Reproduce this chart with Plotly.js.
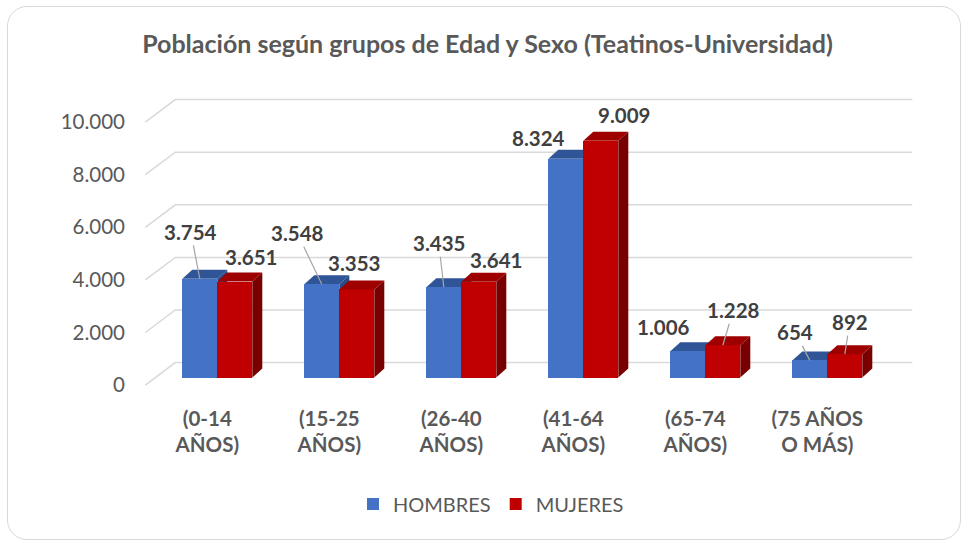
<!DOCTYPE html>
<html>
<head>
<meta charset="utf-8">
<script src="https://cdn.plot.ly/plotly-3.0.1.min.js"></script>
<style>
  html, body { margin: 0; padding: 0; background: #ffffff; }
  #wrap { position: relative; width: 968px; height: 543px; }
  #chart { width: 968px; height: 543px; }
  #frame { position: absolute; left: 7px; top: 6px; width: 954px; height: 534px;
           border: 1.5px solid #d9d9d9; border-radius: 20px; pointer-events: none; box-sizing: border-box; }
</style>
</head>
<body>
<div id="wrap"><div id="chart"></div><div id="frame"></div></div>
<script>
// ---- data ----
const categories = ['(0-14<br>AÑOS)', '(15-25<br>AÑOS)', '(26-40<br>AÑOS)', '(41-64<br>AÑOS)', '(65-74<br>AÑOS)', '(75 AÑOS<br>O MÁS)'];
const hombres = [3754, 3548, 3435, 8324, 1006, 654];
const mujeres = [3651, 3353, 3641, 9009, 1228, 892];
const yTicks = [0, 2000, 4000, 6000, 8000, 10000];
const seriesNames = ['HOMBRES', 'MUJERES'];
const titleText = 'Población según grupos de Edad y Sexo (Teatinos-Universidad)';

// ---- label placement (style) ----
// [showArrow, dx, dy] in pixels
const hLabelPos = [[true, -9, -47], [true, -24.5, -51], [true, -5, -44], [false, -27.5, 21], [false, -24, 24], [true, -14.5, -28]];
const mLabelPos = [[false, 16, 24.6], [false, -3, 26], [false, 17, 22], [false, 23.5, 25.7], [true, 10.5, -35], [true, 5, -32]];

// ---- layout geometry ----
const W = 968, H = 543, ML = 138, MR = 43, MT = 80, MB = 147;
const plotW = W - ML - MR, plotH = H - MT - MB;
const GROUP_PX = 122;
const XR = [-0.65, -0.65 + plotW / GROUP_PX];
const YR = [-700, 11315];
const PXX = plotW / (XR[1] - XR[0]);
const PXY = plotH / (YR[1] - YR[0]);
const BAR_W = 35 / PXX;
const DX = 10 / PXX, DY = 9 / PXY;
const LABEL_DROP = 7.5 / PXY;   // tick labels sit on the front plane, a little lower
const YR2 = [YR[0] + LABEL_DROP, YR[1] + LABEL_DROP];

const blue = '#4472C4', blueTop = '#2F5597', blueSide = '#284B8A';
const red = '#C00000', redTop = '#9E0000', redSide = '#780000';
const textGray = '#595959', labelGray = '#404040', gridCol = '#D9D9D9';
const FONT = 'Lato, sans-serif';

const idx = categories.map((_, i) => i);

const traces = [
  { type: 'bar', name: seriesNames[0], x: idx, y: hombres, offset: -BAR_W, width: BAR_W,
    marker: { color: blue, line: { width: 0 } }, hoverinfo: 'skip' },
  { type: 'bar', name: seriesNames[1], x: idx, y: mujeres, offset: 0, width: BAR_W,
    marker: { color: red, line: { width: 0 } }, hoverinfo: 'skip' },
  { type: 'scatter', x: [], y: [], yaxis: 'y2', showlegend: false, hoverinfo: 'skip' }
];

const shapes = [];
// back-wall gridlines with floor diagonal
const xDiag0 = (145 - 217) / PXX, xBack0 = (175 - 217) / PXX, xBack1 = (912 - 217) / PXX;
yTicks.forEach(t => {
  const yf = t - 7.5 / PXY, yb = t + 15 / PXY;
  shapes.push({ type: 'path', xref: 'x', yref: 'y', layer: 'below',
    path: `M ${xDiag0},${yf} L ${xBack0},${yb} L ${xBack1},${yb}`,
    line: { color: gridCol, width: 1.5 } });
});
function face(pts, color, layer) {
  const p = 'M ' + pts.map(q => q[0] + ',' + q[1]).join(' L ') + ' Z';
  return { type: 'path', xref: 'x', yref: 'y', layer: layer, path: p,
           fillcolor: color, line: { width: 0 } };
}
hombres.forEach((v, i) => {
  const xl = i - BAR_W, xr = i;
  shapes.push(face([[xr, 0], [xr, v], [xr + DX, v + DY], [xr + DX, DY]], blueSide, 'below'));
  shapes.push(face([[xl, v], [xr, v], [xr + DX, v + DY], [xl + DX, v + DY]], blueTop, 'below'));
});
mujeres.forEach((v, i) => {
  const xl = i, xr = i + BAR_W;
  shapes.push(face([[xr, 0], [xr, v], [xr + DX, v + DY], [xr + DX, DY]], redSide, 'above'));
  shapes.push(face([[xl, v], [xr, v], [xr + DX, v + DY], [xl + DX, v + DY]], redTop, 'above'));
});

const fmt = v => v.toLocaleString('de-DE');
const annotations = [];
function addLabel(xc, v, pos) {
  const base = { x: xc, y: v, xref: 'x', yref: 'y', text: fmt(v),
    font: { family: FONT, size: 20.5, color: labelGray, weight: 'bold' } };
  if (pos[0]) {
    annotations.push(Object.assign(base, { showarrow: true, ax: pos[1], ay: pos[2], arrowhead: 0,
      arrowwidth: 1.2, arrowcolor: '#A6A6A6', standoff: 0, startstandoff: 0 }));
  } else {
    annotations.push(Object.assign(base, { showarrow: false, xshift: pos[1], yshift: pos[2] }));
  }
}
hombres.forEach((v, i) => addLabel(i - BAR_W / 2, v, hLabelPos[i]));
mujeres.forEach((v, i) => addLabel(i + BAR_W / 2, v, mLabelPos[i]));

const tickFont = { family: FONT, size: 20.5, color: textGray };
const layout = {
  width: W, height: H,
  margin: { l: ML, r: MR, t: MT, b: MB, pad: 0 },
  paper_bgcolor: '#ffffff', plot_bgcolor: 'rgba(0,0,0,0)',
  separators: ',.',
  font: { family: FONT, color: textGray },
  title: { text: '<b>' + titleText + '</b>', x: 487.5 / W, xanchor: 'center', xref: 'container',
           y: 1 - 44 / H, yanchor: 'middle', yref: 'container',
           font: { family: FONT, size: 25, color: textGray } },
  xaxis: { range: XR, tickvals: idx, ticktext: categories.map(c => '<b>' + c + '</b>'),
           showgrid: false, zeroline: false, showline: false, ticks: '', fixedrange: true,
           ticklabelshift: -10, ticklabelstandoff: 8, tickfont: tickFont },
  yaxis: { range: YR, showgrid: false, zeroline: false, showline: false, ticks: '',
           showticklabels: false, fixedrange: true },
  yaxis2: { range: YR2, overlaying: 'y', side: 'left', anchor: 'x', tickvals: yTicks, tickformat: ',d',
            showgrid: false, zeroline: false, showline: false, ticks: '', fixedrange: true,
            ticklabelstandoff: 12, tickfont: tickFont },
  bargap: 0, barmode: 'overlay',
  showlegend: true,
  legend: { orientation: 'h', x: (353 - ML) / plotW, xanchor: 'left', y: (396 - 504) / plotH, yanchor: 'middle',
            font: { family: FONT, size: 20, color: textGray }, traceorder: 'normal', itemwidth: 30 },
  shapes: shapes, annotations: annotations
};

Plotly.newPlot('chart', traces, layout, { staticPlot: true, displayModeBar: false });
</script>
</body>
</html>
